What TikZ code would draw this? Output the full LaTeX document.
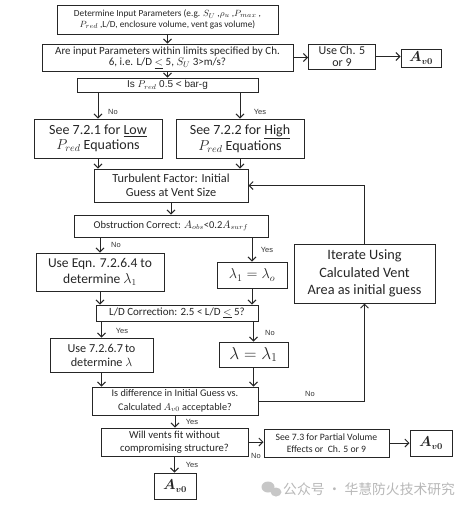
\documentclass[tikz,border=0pt]{standalone}
\usepackage{amsmath,bm}
\usepackage{fontspec}
\setmainfont{Carlito}
\newfontfamily\cjk{Noto Sans CJK SC}
\newfontfamily\arialf{Liberation Sans}
\usetikzlibrary{arrows.meta}
\newcommand{\fsz}[2]{\fontsize{#1}{#2}\selectfont}
\begin{document}
\begin{tikzpicture}[x=1pt,y=-1pt,
  box/.style={draw=black!85, line width=1pt, align=center, inner sep=0.5pt, text=black!85},
  sz/.style 2 args={minimum width=#1pt, minimum height=#2pt},
  arr/.style={draw=black!85, line width=0.9pt, -{Straight Barb[length=4pt,width=8pt]}},
  lbl/.style={font=\arialf\fsz{7.5}{8}, text=black!80, inner sep=0pt},
]
\useasboundingbox (0,0) rectangle (469,509);
\fill[white] (0,0) rectangle (469,509);

\node[box,sz={221}{29},font=\fsz{9.3}{10.3}] (b1) at (167.5,19.5) {Determine Input Parameters (e.g. $S_U$ ,$\rho_u$ ,$P_{max}$ ,\\ $P_{red}$ ,L/D, enclosure volume, vent gas volume)};
\node[box,sz={251}{27},font=\fsz{11}{11.5}] (b2) at (167.5,57.5) {Are input Parameters within limits specified by Ch.\\ 6,\ i.e. L/D $\underline{<}$ 5,\ $S_U$ 3>m/s?};
\node[box,sz={67}{25},font=\fsz{12}{11.5}] (ch59) at (342,56.5) {Use Ch. 5\\ or 9};
\node[box,sz={40}{18},font=\fsz{13.5}{14}] (av1) at (421,58) {$\bm{A_{v0}}$};
\node[box,sz={181}{14},font=\arialf\fsz{10}{11}] (b3) at (167.5,85) {Is $P_{red}$\ 0.5 < bar-g};
\node[box,sz={128}{39},font=\fsz{14}{15}] (low) at (98,138.5) {See 7.2.1 for \underline{Low}\\ $P_{red}$ Equations};
\node[box,sz={128}{39},font=\fsz{14}{15}] (high) at (240,138.5) {See 7.2.2 for \underline{High}\\ $P_{red}$ Equations};
\node[box,sz={154}{33},font=\fsz{12.3}{14}] (turb) at (171,185.5) {Turbulent Factor: Initial\\ Guess at Vent Size};
\node[box,sz={194}{22},font=\fsz{10.5}{12}] (obs) at (171,226) {Obstruction Correct: $A_{obs}$<0.2$A_{surf}$};
\node[box,sz={128}{38},font=\fsz{13.5}{16.5}] (eqn) at (100,272) {Use Eqn. 7.2.6.4 to\\ determine $\lambda_1$};
\node[box,sz={70}{26},font=\fsz{14.5}{16}] (lam1) at (252,275) {$\lambda_1 = \lambda_o$};
\node[box,sz={141}{59},font=\fsz{14.3}{17.5}] (iter) at (364.5,273.5) {Iterate Using\\ Calculated Vent\\ Area as initial guess};
\node[box,sz={162}{16},font=\fsz{11}{12}] (ld) at (177,313) {L/D Correction: 2.5 < L/D $\underline{<}$ 5?};
\node[box,sz={103}{34},font=\fsz{12.2}{14}] (use7) at (101.5,355) {Use 7.2.6.7\,to\\ determine $\lambda$};
\node[box,sz={69}{25},font=\fsz{16.5}{18}] (lam) at (253.5,354.5) {$\lambda = \lambda_1$};
\node[box,sz={166}{28},font=\fsz{10.2}{13.5}] (diff) at (175,401) {Is difference\ in Initial Guess vs.\\ Calculated $A_{v0}$ acceptable?};
\node[box,sz={147}{28},font=\fsz{10.7}{13}] (vents) at (174.5,442) {Will vents fit without\\ compromising structure?};
\node[box,sz={125}{28},font=\fsz{9.7}{12}] (see73) at (326.5,443) {See 7.3 for Partial Volume\\ Effects or\ \ Ch. 5 or 9};
\node[box,sz={42}{26},font=\fsz{13.5}{14}] (av2) at (431,443) {$\bm{A_{v0}}$};
\node[box,sz={42}{26},font=\fsz{13.5}{14}] (av3) at (175,486) {$\bm{A_{v0}}$};

\draw[arr] (b1.south) -- (b2.north);
\draw[arr] (b2.east) -- (b2.east -| ch59.west);
\draw[arr] (ch59.east) -- (ch59.east -| av1.west);
\draw[arr] (b2.south) -- (b3.north);
\draw[arr] (b3.south -| low.north) -- (low.north);
\draw[arr] (b3.south -| high.north) -- (high.north);
\draw[arr] (low.south) -- (low.south |- turb.north);
\draw[arr] (high.south) -- (high.south |- turb.north);
\draw[arr] (turb.south) -- (obs.north);
\draw[arr] (obs.south -| eqn.north) -- (eqn.north);
\draw[arr] (obs.south -| lam1.north) -- (lam1.north);
\draw[arr] (eqn.south) -- (eqn.south |- ld.north);
\draw[arr] (lam1.south) -- (lam1.south |- ld.north);
\draw[arr] (ld.south -| use7.north) -- (use7.north);
\draw[arr] (ld.south -| lam.north) -- (lam.north);
\draw[arr] (use7.south) -- (use7.south |- diff.north);
\draw[arr] (lam.south) -- (lam.south |- diff.north);
\draw[arr] (diff.south) -- (diff.south |- vents.north);
\draw[arr] (vents.east) -- (vents.east -| see73.west);
\draw[arr] (see73.east) -- (see73.east -| av2.west);
\draw[arr] (vents.south) -- (vents.south |- av3.north);
\draw[arr] (diff.east) -| (iter.south);
\draw[arr] (iter.north) |- (turb.east);

\node[lbl] (l1) at (113,112) {No};
\node[lbl] (l2) at (260,112) {Yes};
\node[lbl] (l3) at (116,245) {No};
\node[lbl] (l4) at (267,250) {Yes};
\node[lbl] (l5) at (122,331) {Yes};
\node[lbl] (l6) at (270,333) {No};
\node[lbl] (l7) at (310,394) {No};
\node[lbl] (l8) at (192,422) {Yes};
\node[lbl] (l9) at (256,456) {No};
\node[lbl] (l10) at (192,465) {Yes};

\fill[black!22] (268,487) ellipse [x radius=6.5, y radius=5.5];
\fill[black!22] (276,492) ellipse [x radius=5.5, y radius=4.5];
\node[anchor=west, inner sep=0pt, text=black!28, font=\cjk\fsz{13.8}{14}] (wm) at (283,489) {公众号 · 华慧防火技术研究};
\end{tikzpicture}
\end{document}
